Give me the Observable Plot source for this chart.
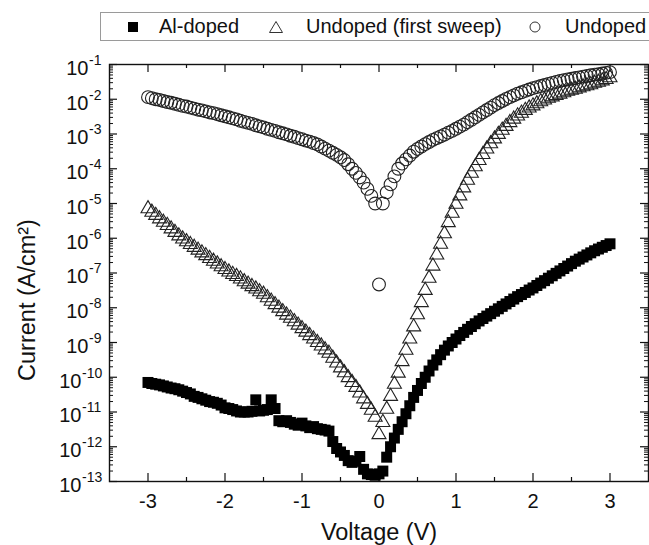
<!DOCTYPE html>
<html><head><meta charset="utf-8">
<script src="https://cdn.jsdelivr.net/npm/d3@7"></script>
<script src="https://cdn.jsdelivr.net/npm/@observablehq/plot@0.6"></script>
<style>
body{margin:0;background:#fff;font-family:"Liberation Sans",Arial,sans-serif;}
#wrap{width:649px;height:545px;overflow:hidden;position:relative;background:#fff;}
#legend{position:relative;height:41px;width:649px;}
#legend .box{position:absolute;left:100px;top:12px;width:600px;height:27px;border:1px solid #9a9a9a;}
#legend .mk{position:absolute;top:12px;height:29px;display:flex;align-items:center;}
#legend .lb{position:absolute;top:12px;height:29px;line-height:29px;font-size:20px;color:#111;white-space:nowrap;}
</style></head>
<body><div id="wrap"><div id="legend"><div class="box"></div></div><div id="chart"></div></div>
<script>
// ---- data ----
const seriesNames = ["Al-doped", "Undoped (first sweep)", "Undoped"];

const voltage = [-3,-2.95,-2.9,-2.85,-2.8,-2.75,-2.7,-2.65,-2.6,-2.55,-2.5,-2.45,-2.4,-2.35,-2.3,-2.25,-2.2,-2.15,-2.1,-2.05,-2,-1.95,-1.9,-1.85,-1.8,-1.75,-1.7,-1.65,-1.6,-1.55,-1.5,-1.45,-1.4,-1.35,-1.3,-1.25,-1.2,-1.15,-1.1,-1.05,-1,-0.95,-0.9,-0.85,-0.8,-0.75,-0.7,-0.65,-0.6,-0.55,-0.5,-0.45,-0.4,-0.35,-0.3,-0.25,-0.2,-0.15,-0.1,-0.05,0,0.05,0.1,0.15,0.2,0.25,0.3,0.35,0.4,0.45,0.5,0.55,0.6,0.65,0.7,0.75,0.8,0.85,0.9,0.95,1,1.05,1.1,1.15,1.2,1.25,1.3,1.35,1.4,1.45,1.5,1.55,1.6,1.65,1.7,1.75,1.8,1.85,1.9,1.95,2,2.05,2.1,2.15,2.2,2.25,2.3,2.35,2.4,2.45,2.5,2.55,2.6,2.65,2.7,2.75,2.8,2.85,2.9,2.95,3];

// log10 of current density (A/cm^2), one value per voltage step
const alDopedLog10 = [
 -10.15,-10.18,-10.20,-10.22,-10.25,-10.28,-10.31,-10.33,-10.36,-10.40,
 -10.44,-10.48,-10.55,-10.58,-10.62,-10.66,-10.70,-10.72,-10.75,-10.80,
 -10.88,-10.90,-10.93,-10.97,-11.00,-11.00,-11.00,-10.98,-10.65,-10.97,
 -10.95,-10.93,-10.65,-10.90,-11.25,-11.28,-11.25,-11.30,-11.35,-11.38,
 -11.32,-11.40,-11.45,-11.42,-11.48,-11.50,-11.52,-11.55,-11.85,-12.05,
 -12.15,-12.25,-12.40,-12.45,-12.42,-12.28,-12.65,-12.78,-12.80,-12.82,
 -12.78,
 -12.70,-12.30,-12.00,-11.75,-11.50,-11.28,-11.05,-10.82,-10.58,-10.38,
 -10.18,-10.00,-9.82,-9.65,-9.50,-9.35,-9.22,-9.10,-9.00,-8.90,
 -8.80,-8.71,-8.62,-8.54,-8.46,-8.38,-8.31,-8.24,-8.17,-8.10,
 -8.03,-7.96,-7.89,-7.82,-7.75,-7.68,-7.62,-7.56,-7.49,-7.43,
 -7.36,-7.29,-7.22,-7.15,-7.08,-7.01,-6.94,-6.87,-6.80,-6.73,
 -6.66,-6.60,-6.54,-6.48,-6.42,-6.36,-6.31,-6.26,-6.21,-6.16];

const firstSweepLog10 = [
 -5.15,-5.25,-5.34,-5.44,-5.54,-5.63,-5.73,-5.83,-5.93,-6.02,
 -6.10,-6.18,-6.26,-6.34,-6.42,-6.50,-6.58,-6.66,-6.74,-6.82,
 -6.90,-6.97,-7.04,-7.10,-7.17,-7.25,-7.32,-7.39,-7.46,-7.54,
 -7.61,-7.71,-7.81,-7.91,-8.01,-8.11,-8.21,-8.30,-8.40,-8.50,
 -8.60,-8.70,-8.80,-8.90,-9.00,-9.10,-9.21,-9.31,-9.45,-9.59,
 -9.73,-9.87,-10.01,-10.15,-10.29,-10.45,-10.62,-10.78,-10.95,-11.15,
 -11.65,
 -11.30,-10.92,-10.55,-10.20,-9.88,-9.55,-9.22,-8.90,-8.55,-8.20,
 -7.85,-7.50,-7.15,-6.80,-6.48,-6.17,-5.87,-5.55,-5.28,-5.02,
 -4.78,-4.55,-4.33,-4.13,-3.94,-3.76,-3.59,-3.43,-3.28,-3.14,
 -3.01,-2.89,-2.78,-2.67,-2.57,-2.48,-2.40,-2.32,-2.25,-2.19,
 -2.13,-2.07,-2.02,-1.97,-1.93,-1.89,-1.85,-1.81,-1.77,-1.74,
 -1.71,-1.67,-1.64,-1.61,-1.58,-1.54,-1.51,-1.47,-1.43,-1.38];

const undopedLog10 = [
 -1.94,-1.97,-2.00,-2.02,-2.05,-2.08,-2.10,-2.13,-2.16,-2.19,
 -2.21,-2.24,-2.27,-2.30,-2.32,-2.35,-2.38,-2.40,-2.43,-2.46,
 -2.49,-2.52,-2.55,-2.58,-2.62,-2.65,-2.68,-2.71,-2.75,-2.78,
 -2.81,-2.85,-2.88,-2.91,-2.95,-2.98,-3.01,-3.05,-3.08,-3.12,
 -3.15,-3.19,-3.22,-3.26,-3.30,-3.36,-3.42,-3.48,-3.54,-3.60,
 -3.67,-3.75,-3.87,-4.00,-4.12,-4.25,-4.40,-4.58,-4.78,-5.00,
 -7.33,
 -5.00,-4.68,-4.45,-4.22,-4.00,-3.85,-3.73,-3.62,-3.51,-3.43,
 -3.36,-3.29,-3.23,-3.17,-3.12,-3.07,-3.02,-2.96,-2.91,-2.85,
 -2.79,-2.73,-2.66,-2.59,-2.52,-2.45,-2.38,-2.31,-2.24,-2.17,
 -2.11,-2.05,-1.99,-1.94,-1.89,-1.84,-1.80,-1.76,-1.72,-1.68,
 -1.65,-1.62,-1.59,-1.56,-1.53,-1.50,-1.47,-1.45,-1.43,-1.41,
 -1.39,-1.37,-1.35,-1.33,-1.31,-1.29,-1.28,-1.26,-1.24,-1.22];

// axis ticks / labels
const xTickValues = [-3, -2, -1, 0, 1, 2, 3];
const xTickLabels = ["-3", "-2", "-1", "0", "1", "2", "3"];
const xMinorTickValues = [-2.5, -1.5, -0.5, 0.5, 1.5, 2.5];
const yTickExponents = [-13, -12, -11, -10, -9, -8, -7, -6, -5, -4, -3, -2, -1];
const yTickExpLabels = ["-13", "-12", "-11", "-10", "-9", "-8", "-7", "-6", "-5", "-4", "-3", "-2", "-1"];
const xTitle = "Voltage (V)";
const yTitle = "Current (A/cm\u00B2)";

// ---- build tables ----
const toRows = (logs, name) => voltage.map((v, i) => ({series: name, v, j: Math.pow(10, logs[i])}));
const alRows = toRows(alDopedLog10, seriesNames[0]);
const firstRows = toRows(firstSweepLog10, seriesNames[1]);
const undopedRows = toRows(undopedLog10, seriesNames[2]);

const yMajor = yTickExponents.map(e => Math.pow(10, e));
const yMinor = [];
yTickExponents.slice(0, -1).forEach(e => { for (let k = 2; k <= 9; k++) yMinor.push(k * Math.pow(10, e)); });
const yLabelRows = yTickExponents.map((e, i) => ({value: Math.pow(10, e), exp: yTickExpLabels[i]}));
const yLab1 = yLabelRows.filter(d => d.exp.length <= 2);
const yLab2 = yLabelRows.filter(d => d.exp.length > 2);

// ---- layout ----
const W = 649, H = 504;
const mL = 109, mR = 1, mT = 23, mB = 64;
const pw = W - mL - mR, ph = H - mT - mB;
const FONT = '"Liberation Sans", Arial, Helvetica, sans-serif';
const INK = "#111";
const MK = "#222";

const chart = Plot.plot({
  width: W, height: H,
  marginLeft: mL, marginRight: mR, marginTop: mT, marginBottom: mB,
  style: {fontFamily: FONT, background: "white", color: INK, overflow: "visible"},
  x: {type: "linear", domain: [-3.5, 3.5], axis: null},
  y: {type: "log", domain: [1e-13, 1e-1], axis: null},
  marks: [
    // ticks (inward)
    Plot.tickX(xTickValues, {x: d => d, insetTop: ph - 8, stroke: INK, strokeWidth: 1.2}),
    Plot.tickX(xTickValues, {x: d => d, insetBottom: ph - 8, stroke: INK, strokeWidth: 1.2}),
    Plot.tickX(xMinorTickValues, {x: d => d, insetTop: ph - 4, stroke: INK, strokeWidth: 1.2}),
    Plot.tickX(xMinorTickValues, {x: d => d, insetBottom: ph - 4, stroke: INK, strokeWidth: 1.2}),
    Plot.tickY(yMajor, {y: d => d, insetRight: pw - 8, stroke: INK, strokeWidth: 1.2}),
    Plot.tickY(yMajor, {y: d => d, insetLeft: pw - 8, stroke: INK, strokeWidth: 1.2}),
    Plot.tickY(yMinor, {y: d => d, insetRight: pw - 4, stroke: INK, strokeWidth: 1}),
    Plot.tickY(yMinor, {y: d => d, insetLeft: pw - 4, stroke: INK, strokeWidth: 1}),
    Plot.frame({stroke: INK, strokeWidth: 1.4}),
    // data
    Plot.dot(alRows, {x: "v", y: "j", symbol: "square", r: 6.2, fill: "#000", stroke: "none"}),
    Plot.dot(firstRows, {x: "v", y: "j", symbol: "triangle", r: 5.2, fill: "none", stroke: MK, strokeWidth: 1.1}),
    Plot.dot(undopedRows, {x: "v", y: "j", symbol: "circle", r: 6.4, fill: "none", stroke: MK, strokeWidth: 1.1}),
    // x tick labels
    Plot.text(xTickValues, {x: d => d, text: (d, i) => xTickLabels[i], frameAnchor: "bottom", lineAnchor: "top", dy: 12, fontSize: 20, fill: INK}),
    // y tick labels: "10" with superscript exponent
    Plot.text(yLab1, {y: "value", text: () => "10", frameAnchor: "left", textAnchor: "end", lineAnchor: "middle", dx: -21, dy: 4, fontSize: 20, fill: INK}),
    Plot.text(yLab1, {y: "value", text: "exp", frameAnchor: "left", textAnchor: "start", lineAnchor: "middle", dx: -20.5, dy: -4, fontSize: 14, fill: INK}),
    Plot.text(yLab2, {y: "value", text: () => "10", frameAnchor: "left", textAnchor: "end", lineAnchor: "middle", dx: -28, dy: 4, fontSize: 20, fill: INK}),
    Plot.text(yLab2, {y: "value", text: "exp", frameAnchor: "left", textAnchor: "start", lineAnchor: "middle", dx: -27.5, dy: -4, fontSize: 14, fill: INK}),
    // axis titles
    Plot.text([xTitle], {text: d => d, frameAnchor: "bottom", lineAnchor: "top", dy: 42, fontSize: 23.5, fill: INK}),
    Plot.text([yTitle], {text: d => d, frameAnchor: "left", rotate: -90, textAnchor: "middle", lineAnchor: "middle", dx: -82, dy: 27, fontSize: 23.5, fill: INK})
  ]
});
document.getElementById("chart").appendChild(chart);

// ---- legend (above the SVG) ----
const legend = document.getElementById("legend");
const markerX = [133, 276, 535];
const labelX = [159, 306, 565];
const markerSvg = [
  '<svg width="12" height="12"><rect x="1" y="1" width="10" height="10" fill="#000"/></svg>',
  '<svg width="16" height="14"><path d="M8,1.5 L14.5,12.5 L1.5,12.5 Z" fill="none" stroke="#333" stroke-width="1"/></svg>',
  '<svg width="14" height="14"><circle cx="7" cy="7" r="5" fill="none" stroke="#333" stroke-width="1"/></svg>'
];
const markerW = [12, 16, 14];
seriesNames.forEach((name, i) => {
  const m = document.createElement("div");
  m.className = "mk";
  m.style.left = (markerX[i] - markerW[i] / 2) + "px";
  m.innerHTML = markerSvg[i];
  legend.appendChild(m);
  const t = document.createElement("div");
  t.className = "lb";
  t.style.left = labelX[i] + "px";
  t.textContent = name;
  legend.appendChild(t);
});
</script>
</body></html>
